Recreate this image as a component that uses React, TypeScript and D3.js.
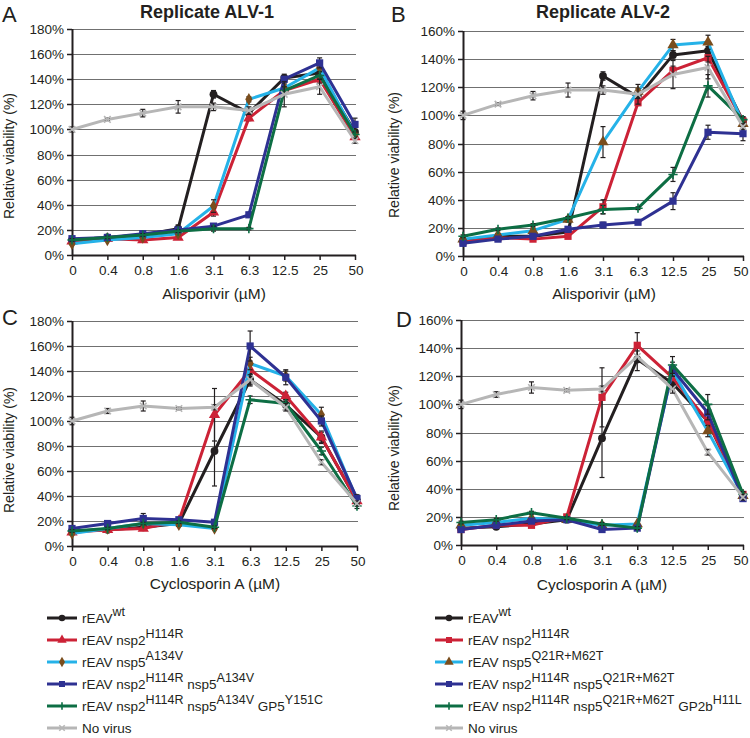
import React from "react";
import * as d3 from "d3";

const concentrations = ["0", "0.4", "0.8", "1.6", "3.1", "6.3", "12.5", "25", "50"];
const ticksA = [0, 20, 40, 60, 80, 100, 120, 140, 160, 180];
const ticksB = [0, 20, 40, 60, 80, 100, 120, 140, 160];

// Panel A – Alisporivir, replicate ALV-1
const aWt = [12, 14, 16, 21, 128, 113, 141, 145, 98];
const aH114R = [11, 13, 12, 14, 34, 109, 131, 140, 94];
const aA134V = [9, 12, 14, 17, 39, 124, 133, 149, 96];
const aDouble = [13, 14, 17, 20, 23, 32, 140, 153, 104];
const aTriple = [12, 14, 16, 19, 21, 21, 131, 143, 96];
const aNoVirus = [100, 108, 113, 118, 118, 115, 128, 134, 91];
const aWtErr = [1, 1, 1, 3, 3, 3, 3, 4, 2];
const aH114RErr = [1, 1, 1, 1, 3, 2, 3, 3, 2];
const aA134VErr = [1, 1, 1, 1, 5, 2, 3, 3, 2];
const aDoubleErr = [1, 1, 1, 1, 2, 2, 3, 4, 5];
const aTripleErr = [1, 1, 1, 1, 2, 1, 3, 3, 2];
const aNoVirusErr = [2, 1, 3, 5, 3, 3, 10, 6, 2];

// Panel B – Alisporivir, replicate ALV-2
const bWt = [11, 14, 14, 17, 128, 113, 143, 146, 96];
const bH114R = [10, 13, 12, 14, 35, 109, 132, 141, 96];
const bQ21R = [12, 15, 18, 26, 81, 117, 150, 152, 94];
const bDouble = [9, 12, 14, 19, 22, 24, 39, 88, 87];
const bTriple = [14, 19, 22, 27, 33, 34, 58, 121, 97];
const bNoVirus = [100, 108, 114, 118, 118, 115, 129, 134, 92];
const bWtErr = [1, 1, 1, 2, 3, 2, 3, 3, 3];
const bH114RErr = [1, 1, 1, 1, 5, 2, 3, 3, 2];
const bQ21RErr = [1, 1, 2, 2, 11, 2, 4, 5, 2];
const bDoubleErr = [1, 1, 1, 1, 2, 1, 6, 5, 5];
const bTripleErr = [1, 1, 1, 1, 3, 1, 5, 8, 2];
const bNoVirusErr = [3, 1, 3, 5, 3, 7, 10, 8, 2];

// Panel C – Cyclosporin A, ALV-1 set
const cWt = [12, 13, 15, 18, 76, 133, 113, 87, 36];
const cH114R = [11, 13, 14, 20, 105, 141, 120, 87, 36];
const cA134V = [10, 14, 18, 17, 14, 146, 136, 105, 37];
const cDouble = [14, 18, 22, 21, 19, 160, 135, 100, 38];
const cTriple = [12, 14, 18, 19, 15, 117, 114, 76, 32];
const cNoVirus = [100, 108, 112, 110, 111, 133, 111, 67, 34];
const cWtErr = [1, 1, 1, 1, 28, 5, 4, 5, 3];
const cH114RErr = [1, 1, 1, 1, 21, 4, 3, 4, 2];
const cA134VErr = [1, 1, 1, 1, 1, 5, 4, 6, 2];
const cDoubleErr = [1, 1, 4, 1, 1, 12, 6, 4, 3];
const cTripleErr = [1, 1, 1, 1, 1, 3, 3, 3, 2];
const cNoVirusErr = [3, 2, 4, 1, 2, 4, 3, 2, 2];

// Panel D – Cyclosporin A, ALV-2 set
const dWt = [12, 13, 15, 18, 76, 132, 115, 88, 35];
const dH114R = [11, 14, 14, 20, 105, 142, 119, 88, 36];
const dQ21R = [14, 16, 19, 18, 14, 15, 124, 81, 35];
const dDouble = [11, 14, 17, 18, 11, 12, 125, 94, 33];
const dTriple = [16, 18, 23, 19, 15, 12, 128, 100, 36];
const dNoVirus = [100, 107, 112, 110, 111, 134, 111, 66, 34];
const dWtErr = [1, 1, 1, 1, 28, 8, 4, 4, 2];
const dH114RErr = [1, 1, 1, 1, 21, 9, 4, 4, 2];
const dQ21RErr = [1, 1, 1, 1, 1, 1, 4, 4, 2];
const dDoubleErr = [1, 1, 1, 1, 1, 1, 5, 5, 2];
const dTripleErr = [1, 1, 1, 1, 1, 1, 6, 7, 2];
const dNoVirusErr = [3, 2, 4, 1, 2, 4, 3, 2, 2];

// Legend labels: [text, isSuperscript]
const legendLeft: [string, boolean][][] = [
  [["rEAV", false], ["wt", true]],
  [["rEAV nsp2", false], ["H114R", true]],
  [["rEAV nsp5", false], ["A134V", true]],
  [["rEAV nsp2", false], ["H114R", true], [" nsp5", false], ["A134V", true]],
  [["rEAV nsp2", false], ["H114R", true], [" nsp5", false], ["A134V", true], [" GP5", false], ["Y151C", true]],
  [["No virus", false]],
];
const legendRight: [string, boolean][][] = [
  [["rEAV", false], ["wt", true]],
  [["rEAV nsp2", false], ["H114R", true]],
  [["rEAV nsp5", false], ["Q21R+M62T", true]],
  [["rEAV nsp2", false], ["H114R", true], [" nsp5", false], ["Q21R+M62T", true]],
  [["rEAV nsp2", false], ["H114R", true], [" nsp5", false], ["Q21R+M62T", true], [" GP2b", false], ["H11L", true]],
  [["No virus", false]],
];

const FONT = "'Liberation Sans', Arial, Helvetica, sans-serif";
const C = {
  black: "#231f20",
  red: "#cc2236",
  cyan: "#25b2e8",
  navy: "#2e3192",
  green: "#0d6e44",
  gray: "#b6b6b6",
  brown: "#7a4d1d",
};

type Marker = "circle" | "triangle" | "square" | "diamond" | "plus" | "times";
interface Style { color: string; marker: Marker; markerColor: string; }

const stylesAC: Style[] = [
  { color: C.black, marker: "circle", markerColor: C.black },
  { color: C.red, marker: "triangle", markerColor: C.red },
  { color: C.cyan, marker: "diamond", markerColor: C.brown },
  { color: C.navy, marker: "square", markerColor: C.navy },
  { color: C.green, marker: "plus", markerColor: C.green },
  { color: C.gray, marker: "times", markerColor: C.gray },
];
const stylesBD: Style[] = [
  { color: C.black, marker: "circle", markerColor: C.black },
  { color: C.red, marker: "square", markerColor: C.red },
  { color: C.cyan, marker: "triangle", markerColor: C.brown },
  { color: C.navy, marker: "square", markerColor: C.navy },
  { color: C.green, marker: "plus", markerColor: C.green },
  { color: C.gray, marker: "times", markerColor: C.gray },
];

function symbolPath(m: Marker, scale = 1): string {
  const map: Record<Marker, [any, number]> = {
    circle: [d3.symbolCircle, 48],
    triangle: [d3.symbolTriangle, 55],
    square: [d3.symbolSquare, 52],
    diamond: [d3.symbolDiamond, 45],
    plus: [d3.symbolPlus, 30],
    times: [d3.symbolTimes, 30],
  };
  const [t, s] = map[m];
  return d3.symbol().type(t).size(s * scale)() as string;
}

function MarkerShape({ m, color, x, y, scale = 1 }: { m: Marker; color: string; x: number; y: number; scale?: number }) {
  const d = symbolPath(m, scale);
  const stroked = m === "plus" || m === "times";
  return (
    <path
      d={d}
      transform={`translate(${x},${y})`}
      fill={stroked ? "none" : color}
      stroke={stroked ? color : "none"}
      strokeWidth={stroked ? 1.6 : 0}
    />
  );
}

interface PanelProps {
  x0: number; x1: number; yTop: number; yBottom: number;
  yMax: number; ticks: number[];
  series: number[][]; errors: number[][]; styles: Style[];
  title?: string; titleX?: number;
  letter: string; letterX: number; letterY: number;
  xTitle: string; xTitleX: number; xTitleY: number;
  yTitleX: number; yTitleY: number;
}

function Panel(p: PanelProps) {
  const x = d3.scalePoint<string>().domain(concentrations).range([p.x0, p.x1]).padding(0);
  const y = d3.scaleLinear().domain([0, p.yMax]).range([p.yBottom, p.yTop]);
  const line = d3.line<number>().x((_, i) => x(concentrations[i]) as number).y((v) => y(v));
  return (
    <g fontFamily={FONT}>
      {p.title && (
        <text x={p.titleX} y={18} textAnchor="middle" fontWeight="bold" fontSize={18} fill="#231f20">
          {p.title}
        </text>
      )}
      <text x={p.letterX} y={p.letterY} fontSize={22} fill="#231f20">{p.letter}</text>
      {/* gridlines */}
      {p.ticks.filter((t) => t > 0).map((t) => (
        <line key={t} x1={p.x0} x2={p.x1 + 1} y1={Math.round(y(t)) + 0.5} y2={Math.round(y(t)) + 0.5}
          stroke="#707070" strokeWidth={1} />
      ))}
      {/* y axis */}
      <line x1={p.x0 + 0.5} x2={p.x0 + 0.5} y1={p.yTop} y2={p.yBottom} stroke="#231f20" strokeWidth={2} />
      {p.ticks.map((t) => (
        <g key={t}>
          <line x1={p.x0 - 5} x2={p.x0} y1={Math.round(y(t)) + 0.5} y2={Math.round(y(t)) + 0.5} stroke="#231f20" strokeWidth={1.5} />
          <text x={p.x0 - 8} y={y(t) + 5} textAnchor="end" fontSize={13.5} fill="#231f20">{t}%</text>
        </g>
      ))}
      {/* x axis */}
      <line x1={p.x0} x2={p.x1 + 1} y1={p.yBottom + 0.5} y2={p.yBottom + 0.5} stroke="#231f20" strokeWidth={2} />
      {concentrations.map((c) => (
        <g key={c}>
          <line x1={(x(c) as number) + 0.5} x2={(x(c) as number) + 0.5} y1={p.yBottom} y2={p.yBottom + 5} stroke="#231f20" strokeWidth={1.5} />
          <text x={Math.min((x(c) as number) + 1, 741)} y={p.yBottom + 19.5} textAnchor="middle" fontSize={13.5} fill="#231f20">{c}</text>
        </g>
      ))}
      <text x={p.xTitleX} y={p.xTitleY} textAnchor="middle" fontSize={15.5} fill="#231f20">{p.xTitle}</text>
      <text transform={`translate(${p.yTitleX},${p.yTitleY}) rotate(-90)`} textAnchor="middle" fontSize={14} fill="#231f20">
        Relative viability (%)
      </text>
      {/* series */}
      {p.series.map((s, si) => {
        const st = p.styles[si];
        return (
          <g key={si}>
            <path d={line(s) as string} fill="none" stroke={st.color} strokeWidth={3} strokeLinejoin="round" />
            {s.map((v, i) => {
              const e = p.errors[si][i];
              const cx = x(concentrations[i]) as number;
              if (!e) return null;
              return (
                <g key={"e" + i} stroke="#231f20" strokeWidth={1.2}>
                  <line x1={cx} x2={cx} y1={y(v - e)} y2={y(v + e)} />
                  <line x1={cx - 2.5} x2={cx + 2.5} y1={y(v - e)} y2={y(v - e)} />
                  <line x1={cx - 2.5} x2={cx + 2.5} y1={y(v + e)} y2={y(v + e)} />
                </g>
              );
            })}
            {s.map((v, i) => (
              <MarkerShape key={"m" + i} m={st.marker} color={st.markerColor} x={x(concentrations[i]) as number} y={y(v)} />
            ))}
          </g>
        );
      })}
    </g>
  );
}

function Legend({ x, lineX0, lineX1, rows, styles }: { x: number; lineX0: number; lineX1: number; rows: [string, boolean][][]; styles: Style[] }) {
  const ys = [618, 640, 662, 684, 706, 728];
  return (
    <g fontFamily={FONT}>
      {rows.map((row, ri) => {
        const st = styles[ri];
        const yy = ys[ri];
        return (
          <g key={ri}>
            <line x1={lineX0} x2={lineX1} y1={yy} y2={yy} stroke={st.color} strokeWidth={3} />
            <MarkerShape m={st.marker} color={st.markerColor} x={(lineX0 + lineX1) / 2} y={yy} scale={0.7} />
            <text x={x} y={yy + 5} fontSize={13.5} fill="#231f20">
              {row.map(([t, sup], k) => {
                const prevSup = k > 0 && row[k - 1][1];
                const dy = sup ? -7 : prevSup ? 7 : 0;
                return (
                  <tspan key={k} dy={dy} fontSize={sup ? 12.5 : 13.5}>{t}</tspan>
                );
              })}
            </text>
          </g>
        );
      })}
    </g>
  );
}

export default function App() {
  return (
    <svg width={750} height={738} style={{ position: "absolute", left: 0, top: 0, background: "#fff" }}>
      <rect width={750} height={738} fill="#fff" />
      <Panel
        x0={72} x1={355} yTop={29} yBottom={255} yMax={180} ticks={ticksA}
        series={[aWt, aH114R, aA134V, aDouble, aTriple, aNoVirus]}
        errors={[aWtErr, aH114RErr, aA134VErr, aDoubleErr, aTripleErr, aNoVirusErr]}
        styles={stylesAC}
        title="Replicate ALV-1" titleX={207}
        letter="A" letterX={2} letterY={22}
        xTitle="Alisporivir (µM)" xTitleX={214} xTitleY={299}
        yTitleX={14} yTitleY={156}
      />
      <Panel
        x0={463} x1={743} yTop={31} yBottom={256} yMax={160} ticks={ticksB}
        series={[bWt, bH114R, bQ21R, bDouble, bTriple, bNoVirus]}
        errors={[bWtErr, bH114RErr, bQ21RErr, bDoubleErr, bTripleErr, bNoVirusErr]}
        styles={stylesBD}
        title="Replicate ALV-2" titleX={603}
        letter="B" letterX={391} letterY={22}
        xTitle="Alisporivir (µM)" xTitleX={604} xTitleY={299}
        yTitleX={399} yTitleY={155}
      />
      <Panel
        x0={72} x1={357} yTop={321} yBottom={546} yMax={180} ticks={ticksA}
        series={[cWt, cH114R, cA134V, cDouble, cTriple, cNoVirus]}
        errors={[cWtErr, cH114RErr, cA134VErr, cDoubleErr, cTripleErr, cNoVirusErr]}
        styles={stylesAC}
        letter="C" letterX={2} letterY={325}
        xTitle="Cyclosporin A (µM)" xTitleX={215} xTitleY={589}
        yTitleX={14} yTitleY={450}
      />
      <Panel
        x0={461} x1={743} yTop={320} yBottom={545} yMax={160} ticks={ticksB}
        series={[dWt, dH114R, dQ21R, dDouble, dTriple, dNoVirus]}
        errors={[dWtErr, dH114RErr, dQ21RErr, dDoubleErr, dTripleErr, dNoVirusErr]}
        styles={stylesBD}
        letter="D" letterX={396} letterY={327}
        xTitle="Cyclosporin A (µM)" xTitleX={602} xTitleY={590}
        yTitleX={399} yTitleY={448}
      />
      <Legend x={82} lineX0={47} lineX1={77} rows={legendLeft} styles={stylesAC} />
      <Legend x={468} lineX0={435} lineX1={463} rows={legendRight} styles={stylesBD} />
    </svg>
  );
}
